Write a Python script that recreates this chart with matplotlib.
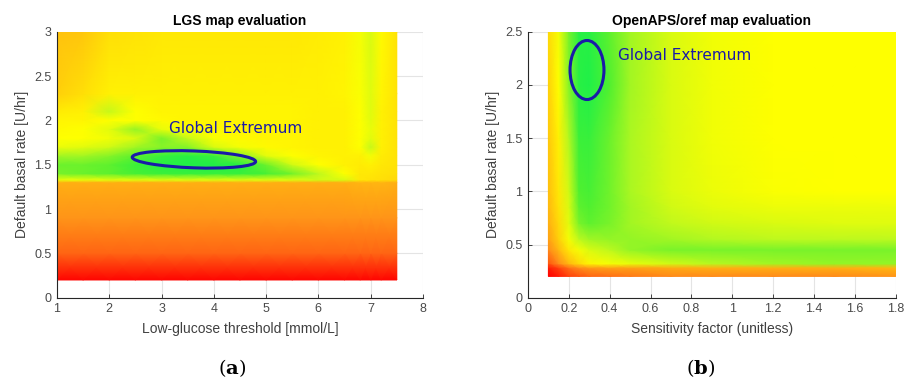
import numpy as np
import matplotlib
matplotlib.use("Agg")
import matplotlib.pyplot as plt
from matplotlib.colors import LinearSegmentedColormap
from matplotlib.patches import Ellipse

plt.rcParams['font.family'] = ['Liberation Sans', 'DejaVu Sans']
plt.rcParams['mathtext.fontset'] = 'dejavuserif'

# ---- (a) LGS map: score sampled on a coarse grid (0 = red, 0.5 = yellow, 1 = green)
lgs_x = [1.0, 1.5, 2.0, 2.5, 3.0, 3.5, 4.0, 4.5, 5.0, 5.5, 6.0, 6.5, 6.8, 7.0, 7.2, 7.5]
lgs_y = [0.2, 0.5, 0.9, 1.3, 1.33, 1.4, 1.5, 1.6, 1.7, 1.8, 1.9, 2.0, 2.1, 2.3, 3.0]
lgs_score = [
    [0.01] * 16,
    [0.18] * 16,
    [0.27] * 16,
    [0.33] * 12 + [0.34, 0.34, 0.34, 0.33],
    [0.55, 0.55, 0.56, 0.56, 0.57, 0.57, 0.57, 0.57, 0.57, 0.57, 0.60, 0.58, 0.45, 0.44, 0.43, 0.42],
    [0.74, 0.76, 0.78, 0.82, 0.84, 0.85, 0.85, 0.85, 0.82, 0.75, 0.64, 0.50, 0.45, 0.45, 0.44, 0.43],
    [0.76, 0.76, 0.78, 0.84, 0.88, 0.90, 0.90, 0.88, 0.76, 0.60, 0.50, 0.47, 0.46, 0.47, 0.45, 0.44],
    [0.68, 0.68, 0.72, 0.78, 0.85, 0.88, 0.85, 0.72, 0.56, 0.50, 0.48, 0.47, 0.47, 0.52, 0.46, 0.44],
    [0.54, 0.56, 0.60, 0.68, 0.72, 0.72, 0.58, 0.52, 0.49, 0.48, 0.47, 0.47, 0.50, 0.62, 0.47, 0.44],
    [0.50, 0.50, 0.53, 0.58, 0.74, 0.62, 0.51, 0.49, 0.48, 0.48, 0.47, 0.47, 0.50, 0.56, 0.47, 0.44],
    [0.49, 0.50, 0.56, 0.70, 0.55, 0.50, 0.49, 0.48, 0.48, 0.48, 0.47, 0.47, 0.50, 0.55, 0.47, 0.44],
    [0.48, 0.48, 0.50, 0.50, 0.49, 0.48, 0.48, 0.48, 0.48, 0.48, 0.47, 0.47, 0.50, 0.56, 0.47, 0.44],
    [0.46, 0.47, 0.62, 0.50, 0.48, 0.48, 0.48, 0.48, 0.48, 0.48, 0.47, 0.47, 0.50, 0.57, 0.47, 0.44],
    [0.40, 0.43, 0.47, 0.47, 0.47, 0.47, 0.47, 0.47, 0.47, 0.47, 0.47, 0.48, 0.51, 0.57, 0.48, 0.44],
    [0.37, 0.38, 0.43, 0.44, 0.45, 0.45, 0.45, 0.45, 0.45, 0.45, 0.46, 0.47, 0.52, 0.58, 0.49, 0.44],
]

# ---- (b) OpenAPS/oref map
oref_x = [0.1, 0.15, 0.2, 0.25, 0.3, 0.4, 0.5, 0.7, 0.9, 1.2, 1.5, 1.8]
oref_y = [0.2, 0.28, 0.32, 0.45, 0.55, 0.7, 0.85, 1.0, 1.5, 2.0, 2.5]
oref_score = [
    [0.00, 0.05, 0.12, 0.15, 0.18, 0.20, 0.22, 0.25, 0.25, 0.25, 0.25, 0.27],
    [0.05, 0.12, 0.20, 0.25, 0.28, 0.30, 0.30, 0.32, 0.33, 0.33, 0.33, 0.35],
    [0.15, 0.25, 0.35, 0.42, 0.48, 0.52, 0.55, 0.60, 0.65, 0.68, 0.70, 0.70],
    [0.25, 0.35, 0.45, 0.52, 0.58, 0.64, 0.70, 0.74, 0.74, 0.74, 0.74, 0.74],
    [0.30, 0.40, 0.52, 0.64, 0.68, 0.70, 0.70, 0.68, 0.66, 0.64, 0.64, 0.64],
    [0.33, 0.42, 0.56, 0.74, 0.78, 0.74, 0.68, 0.63, 0.60, 0.58, 0.57, 0.57],
    [0.35, 0.44, 0.58, 0.78, 0.80, 0.75, 0.68, 0.60, 0.56, 0.54, 0.54, 0.54],
    [0.36, 0.45, 0.60, 0.80, 0.82, 0.75, 0.67, 0.58, 0.54, 0.51, 0.50, 0.50],
    [0.38, 0.47, 0.66, 0.84, 0.85, 0.76, 0.67, 0.58, 0.53, 0.50, 0.50, 0.50],
    [0.40, 0.50, 0.72, 0.88, 0.90, 0.80, 0.68, 0.58, 0.53, 0.50, 0.50, 0.50],
    [0.42, 0.52, 0.74, 0.88, 0.88, 0.78, 0.68, 0.58, 0.53, 0.50, 0.50, 0.50],
]

cmap = LinearSegmentedColormap.from_list(
    "ryg", [(0, "#ff0000"), (0.25, "#ff8a1a"), (0.5, "#ffff00"),
            (0.65, "#b8f820"), (0.8, "#50f030"), (0.9, "#20f048"),
            (1.0, "#10f050")])

blue = "#1a1aa8"
fig = plt.figure(figsize=(9.07, 3.83), dpi=100)


def setup(ax, xlim, ylim, xticks, yticks, xlabels, ylabels):
    ax.set_xlim(*xlim)
    ax.set_ylim(*ylim)
    ax.set_xticks(xticks)
    ax.set_yticks(yticks)
    ax.set_xticklabels(xlabels)
    ax.set_yticklabels(ylabels)
    ax.grid(True, color="#e4e4e4", linewidth=0.8)
    ax.set_axisbelow(True)
    for s in ["top", "right"]:
        ax.spines[s].set_visible(False)
    for s in ["left", "bottom"]:
        ax.spines[s].set_color("#262626")
        ax.spines[s].set_linewidth(0.8)
    ax.tick_params(direction="in", length=3, labelsize=9, colors="#262626",
                   labelcolor="#4a4a4a", width=0.6, pad=4)


ax1 = fig.add_axes([0.0628, 0.2227, 0.4035, 0.6945])
X, Y = np.meshgrid(lgs_x, lgs_y)
ax1.pcolormesh(X, Y, np.array(lgs_score), cmap=cmap, vmin=0, vmax=1,
               shading="gouraud", zorder=2)
setup(ax1, (1, 8), (0, 3), range(1, 9), np.arange(0, 3.01, 0.5),
      [str(i) for i in range(1, 9)], ["0", "0.5", "1", "1.5", "2", "2.5", "3"])
ax1.add_patch(Ellipse((3.62, 1.56), 2.36, 0.19, angle=-1.2, fill=False,
                      edgecolor=blue, linewidth=2.2, zorder=3))
ax1.text(3.14, 1.91, "Global Extremum", color=blue, fontsize=11,
         family="DejaVu Sans", va="center", zorder=4)
ax1.set_title("LGS map evaluation", fontsize=10, fontweight="bold", pad=5)
ax1.set_xlabel("Low-glucose threshold [mmol/L]", fontsize=10, color="#404040",
               labelpad=5)
ax1.set_ylabel("Default basal rate [U/hr]", fontsize=10, color="#404040")

ax2 = fig.add_axes([0.5821, 0.2227, 0.4054, 0.6945])
X, Y = np.meshgrid(oref_x, oref_y)
ax2.pcolormesh(X, Y, np.array(oref_score), cmap=cmap, vmin=0, vmax=1,
               shading="gouraud", zorder=2)
xt = np.arange(0, 1.81, 0.2)
setup(ax2, (0, 1.8), (0, 2.5), xt, np.arange(0, 2.51, 0.5),
      ["0", "0.2", "0.4", "0.6", "0.8", "1", "1.2", "1.4", "1.6", "1.8"],
      ["0", "0.5", "1", "1.5", "2", "2.5"])
ax2.add_patch(Ellipse((0.289, 2.14), 0.166, 0.555, fill=False,
                      edgecolor=blue, linewidth=2.2, zorder=3))
ax2.text(0.44, 2.28, "Global Extremum", color=blue, fontsize=11,
         family="DejaVu Sans", va="center", zorder=4)
ax2.set_title("OpenAPS/oref map evaluation", fontsize=10, fontweight="bold", pad=5)
ax2.set_xlabel("Sensitivity factor (unitless)", fontsize=10, color="#404040",
               labelpad=5)
ax2.set_ylabel("Default basal rate [U/hr]", fontsize=10, color="#404040")

fig.text(0.256, 0.04, r"$(\mathbf{a})$", ha="center", va="center", fontsize=14)
fig.text(0.772, 0.04, r"$(\mathbf{b})$", ha="center", va="center", fontsize=14)

fig.savefig("out.png", dpi=100)
